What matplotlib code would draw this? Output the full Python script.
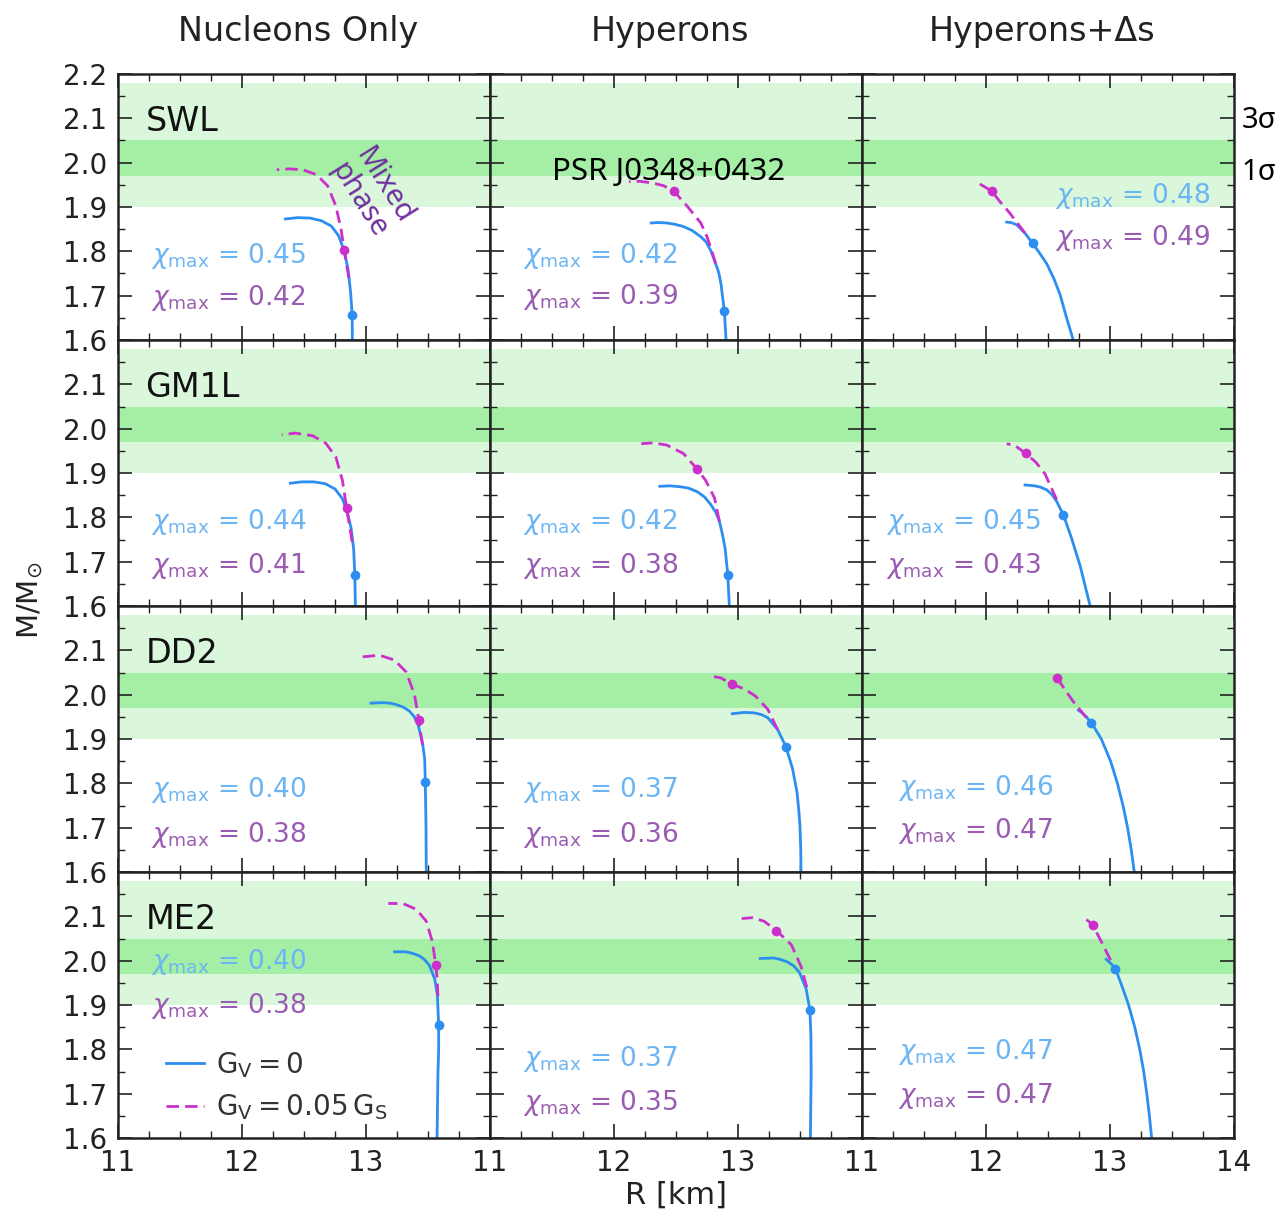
import matplotlib
matplotlib.use("Agg")
import matplotlib.pyplot as plt
from matplotlib.ticker import MultipleLocator, FixedLocator

plt.rcParams["font.family"] = ["DejaVu Sans"]
plt.rcParams["mathtext.fontset"] = "dejavusans"

# ---------------------------------------------------------------------------
# Data: mass-radius branches of hybrid stars, rows = hadronic EoS,
# columns = hadronic composition.  R in km, M in solar masses.
# ---------------------------------------------------------------------------
eos_names = ["SWL", "GM1L", "DD2", "ME2"]
compositions = ["Nucleons Only", "Hyperons", "Hyperons+Δs"]

# G_V = 0 branches
gv0_radius = [
    [[12.89, 12.888, 12.875, 12.855, 12.825, 12.78, 12.72, 12.64, 12.55, 12.45, 12.35],
     [12.904, 12.89, 12.863, 12.845, 12.82, 12.78, 12.74, 12.70, 12.63, 12.56, 12.49, 12.425, 12.36, 12.30],
     [12.704, 12.65, 12.597, 12.545, 12.49, 12.43, 12.376, 12.315, 12.247, 12.20, 12.167]],
    [[12.914, 12.91, 12.90, 12.88, 12.85, 12.81, 12.75, 12.67, 12.58, 12.48, 12.39],
     [12.93, 12.918, 12.896, 12.872, 12.85, 12.82, 12.78, 12.73, 12.67, 12.60, 12.534, 12.45, 12.37],
     [12.84, 12.80, 12.758, 12.69, 12.625, 12.57, 12.53, 12.49, 12.44, 12.395, 12.315]],
    [[13.486, 13.484, 13.478, 13.473, 13.454, 13.42, 13.39, 13.35, 13.30, 13.24, 13.19, 13.135, 13.04],
     [13.508, 13.506, 13.50, 13.49, 13.476, 13.44, 13.386, 13.32, 13.24, 13.19, 13.13, 13.05, 12.954],
     [13.196, 13.172, 13.142, 13.105, 13.06, 13.005, 12.93, 12.865, 12.81, 12.77, 12.745]],
    [[13.573, 13.58, 13.586, 13.586, 13.576, 13.554, 13.51, 13.47, 13.43, 13.37, 13.32, 13.23],
     [13.584, 13.59, 13.588, 13.58, 13.55, 13.495, 13.45, 13.40, 13.34, 13.29, 13.18],
     [13.336, 13.318, 13.297, 13.272, 13.24, 13.20, 13.15, 13.10, 13.06, 13.02, 12.97]],
]
gv0_mass = [
    [[1.60, 1.66, 1.71, 1.76, 1.80, 1.835, 1.857, 1.869, 1.875, 1.876, 1.873],
     [1.60, 1.665, 1.726, 1.752, 1.772, 1.802, 1.822, 1.833, 1.847, 1.856, 1.861, 1.864, 1.865, 1.864],
     [1.60, 1.65, 1.703, 1.74, 1.772, 1.797, 1.818, 1.841, 1.860, 1.865, 1.866]],
    [[1.60, 1.67, 1.73, 1.775, 1.81, 1.842, 1.864, 1.876, 1.880, 1.880, 1.877],
     [1.60, 1.67, 1.73, 1.765, 1.791, 1.812, 1.829, 1.846, 1.858, 1.866, 1.869, 1.871, 1.870],
     [1.60, 1.645, 1.692, 1.753, 1.805, 1.836, 1.852, 1.862, 1.868, 1.871, 1.873]],
    [[1.60, 1.70, 1.804, 1.856, 1.894, 1.932, 1.950, 1.963, 1.972, 1.978, 1.981, 1.982, 1.981],
     [1.60, 1.65, 1.703, 1.74, 1.780, 1.833, 1.883, 1.921, 1.948, 1.955, 1.959, 1.960, 1.957],
     [1.60, 1.65, 1.70, 1.75, 1.80, 1.85, 1.90, 1.93, 1.95, 1.96, 1.965]],
    [[1.60, 1.744, 1.80, 1.854, 1.921, 1.959, 1.990, 2.003, 2.011, 2.017, 2.020, 2.020],
     [1.60, 1.744, 1.83, 1.889, 1.936, 1.974, 1.988, 1.997, 2.003, 2.006, 2.005],
     [1.60, 1.65, 1.70, 1.75, 1.80, 1.85, 1.90, 1.94, 1.97, 1.99, 2.003]],
]

# G_V = 0.05 G_S branches
gvs_radius = [
    [[12.862, 12.84, 12.824, 12.80, 12.757, 12.69, 12.60, 12.49, 12.38, 12.28],
     [12.82, 12.795, 12.75, 12.70, 12.59, 12.485, 12.40, 12.315, 12.205, 12.12],
     [12.315, 12.19, 12.11, 12.046, 11.95]],
    [[12.888, 12.868, 12.843, 12.81, 12.757, 12.676, 12.57, 12.43, 12.32],
     [12.85, 12.81, 12.74, 12.67, 12.56, 12.425, 12.315, 12.22],
     [12.57, 12.476, 12.40, 12.32, 12.234, 12.167]],
    [[13.455, 13.44, 13.427, 13.39, 13.324, 13.23, 13.108, 12.96],
     [13.32, 13.24, 13.14, 13.05, 12.95, 12.86, 12.78],
     [12.81, 12.70, 12.64, 12.575]],
    [[13.58, 13.575, 13.562, 13.535, 13.486, 13.405, 13.297, 13.18],
     [13.555, 13.51, 13.43, 13.31, 13.21, 13.116, 13.03],
     [13.005, 12.93, 12.86, 12.81]],
]
gvs_mass = [
    [[1.74, 1.775, 1.802, 1.848, 1.902, 1.948, 1.973, 1.984, 1.986, 1.984],
     [1.772, 1.795, 1.833, 1.864, 1.902, 1.935, 1.948, 1.954, 1.958, 1.957],
     [1.841, 1.887, 1.913, 1.936, 1.952]],
    [[1.745, 1.78, 1.822, 1.883, 1.936, 1.967, 1.984, 1.990, 1.986],
     [1.791, 1.844, 1.883, 1.909, 1.944, 1.963, 1.968, 1.966],
     [1.840, 1.898, 1.925, 1.944, 1.962, 1.966]],
    [[1.887, 1.915, 1.942, 2.001, 2.051, 2.078, 2.089, 2.085],
     [1.921, 1.967, 1.997, 2.013, 2.024, 2.038, 2.042],
     [1.948, 1.986, 2.01, 2.037]],
    [[1.92, 1.955, 1.991, 2.043, 2.089, 2.116, 2.129, 2.129],
     [1.94, 1.986, 2.036, 2.068, 2.089, 2.097, 2.095],
     [2.001, 2.043, 2.081, 2.093]],
]

# onset of the quark-hadron mixed phase (R, M)
gv0_onset = [
    [(12.886, 1.657), (12.89, 1.665), (12.376, 1.818)],
    [(12.908, 1.669), (12.918, 1.670), (12.625, 1.805)],
    [(13.478, 1.804), (13.386, 1.883), (12.85, 1.936)],
    [(13.586, 1.854), (13.58, 1.889), (13.04, 1.982)],
]
gvs_onset = [
    [(12.824, 1.802), (12.485, 1.935), (12.046, 1.936)],
    [(12.843, 1.822), (12.67, 1.909), (12.32, 1.944)],
    [(13.427, 1.942), (12.95, 2.024), (12.575, 2.037)],
    [(13.562, 1.991), (13.31, 2.068), (12.86, 2.081)],
]

# maximum central quark fraction
chi_gv0 = [[0.45, 0.42, 0.48], [0.44, 0.42, 0.45], [0.40, 0.37, 0.46], [0.40, 0.37, 0.47]]
chi_gvs = [[0.42, 0.39, 0.49], [0.41, 0.38, 0.43], [0.38, 0.36, 0.47], [0.38, 0.35, 0.47]]

# PSR J0348+0432 mass constraint
band_1sigma = (1.97, 2.05)
band_3sigma = (1.90, 2.18)

# ---------------------------------------------------------------------------
# Styling / layout
# ---------------------------------------------------------------------------
c_gv0 = "#2b8ef0"
c_gvs = "#cc2fcc"
c_txt_gv0 = "#6cb5f4"
c_txt_gvs = "#9a5cb2"
c_band_light = "#dbf7db"
c_band_dark = "#a5eea5"

# (R, M) of the left edge of the two chi labels, per panel
chi_label_pos = [
    [((11.27, 1.790), (11.27, 1.695)), ((11.27, 1.790), (11.27, 1.697)), ((12.556, 1.925), (12.556, 1.830))],
    [((11.27, 1.789), (11.27, 1.690)), ((11.27, 1.789), (11.27, 1.690)), ((11.19, 1.789), (11.19, 1.690))],
    [((11.27, 1.785), (11.27, 1.683)), ((11.27, 1.785), (11.27, 1.683)), ((11.29, 1.790), (11.29, 1.693))],
    [((11.27, 1.997), (11.27, 1.898)), ((11.27, 1.779), (11.27, 1.680)), ((11.29, 1.793), (11.29, 1.695))],
]

fig, axes = plt.subplots(4, 3, figsize=(12.87, 12.17), dpi=100)
fig.subplots_adjust(left=0.0917, right=0.9588, top=0.9392, bottom=0.0649,
                    wspace=0, hspace=0)

yt = [1.6, 1.7, 1.8, 1.9, 2.0, 2.1, 2.2]
xt = [11, 12, 13, 14]

for i in range(4):
    for j in range(3):
        ax = axes[i][j]
        ax.set_xlim(11, 14)
        ax.set_ylim(1.6, 2.2)
        ax.axhspan(*band_3sigma, color=c_band_light, lw=0, zorder=0)
        ax.axhspan(*band_1sigma, color=c_band_dark, lw=0, zorder=0.5)

        l0, = ax.plot(gv0_radius[i][j], gv0_mass[i][j], color=c_gv0, lw=2.0,
                      solid_joinstyle="round", zorder=3)
        l1, = ax.plot(gvs_radius[i][j], gvs_mass[i][j], color=c_gvs, lw=2.0,
                      dashes=(4.5, 2.2), zorder=3.5)
        ax.plot(*gv0_onset[i][j], "o", color=c_gv0, ms=7, mec="none", zorder=4)
        ax.plot(*gvs_onset[i][j], "o", color=c_gvs, ms=7, mec="none", zorder=4)

        (bx, by), (px, py) = chi_label_pos[i][j]
        ax.text(bx, by, r"$\chi_{\mathrm{max}}$ = %.2f" % chi_gv0[i][j],
                color=c_txt_gv0, fontsize=19, va="center", ha="left", zorder=5)
        ax.text(px, py, r"$\chi_{\mathrm{max}}$ = %.2f" % chi_gvs[i][j],
                color=c_txt_gvs, fontsize=19, va="center", ha="left", zorder=5)

        # ticks
        ax.xaxis.set_major_locator(FixedLocator(xt))
        ax.xaxis.set_minor_locator(MultipleLocator(0.25))
        ax.yaxis.set_major_locator(FixedLocator(yt))
        ax.yaxis.set_minor_locator(MultipleLocator(0.05))
        ax.tick_params(which="both", direction="in", top=True, right=True,
                       colors="#222222", labelsize=20)
        ax.tick_params(which="major", length=10, width=1.2, pad=8)
        ax.tick_params(which="minor", length=5, width=1.0)
        for sp in ax.spines.values():
            sp.set_linewidth(1.8)
            sp.set_color("#222222")
            sp.set_zorder(6)

        if j == 0:
            labels = ["%.1f" % v for v in yt]
            if i > 0:
                labels[-1] = ""
            ax.set_yticklabels(labels)
        else:
            ax.set_yticklabels([])
        if i == 3:
            labels = ["%d" % v for v in xt]
            if j < 2:
                labels[-1] = ""
            ax.set_xticklabels(labels)
        else:
            ax.set_xticklabels([])

        if i == 0:
            ax.text(0.5 - 6 / 372, 1 + 42 / 266, compositions[j], transform=ax.transAxes,
                    ha="center", va="center", fontsize=24, color="#222222")
        if j == 0:
            ax.text(11.22, 2.093, eos_names[i], fontsize=24, va="center",
                    ha="left", color="#111111", zorder=5)

        if i == 3 and j == 0:
            ax.legend([l0, l1],
                      [r"$\mathrm{G_V = 0}$", r"$\mathrm{G_V = 0.05\,G_S}$"],
                      loc="upper left", bbox_to_anchor=(0.062, 0.425),
                      frameon=False, fontsize=20, handlelength=1.35,
                      handletextpad=0.45, labelspacing=0.45, borderpad=0.4,
                      labelcolor="#333333")

# annotations
axes[0][1].text(12.44, 1.979, "PSR J0348+0432", family=["Noto Sans", "DejaVu Sans"],
                fontsize=22.5, ha="center", va="center", color="black", zorder=7)
axes[0][0].text(13.04, 1.931, "Mixed\nphase", family=["Noto Sans", "DejaVu Sans"],
                fontsize=21, rotation=-58, rotation_mode="anchor", ha="center",
                va="center", multialignment="center", linespacing=1.0,
                color="#7030a0", zorder=7)
axes[0][2].text(1.021, 2.096, "3σ", transform=axes[0][2].get_yaxis_transform(),
                family=["Noto Sans", "DejaVu Sans"], fontsize=21, ha="left",
                va="center", color="black", clip_on=False)
axes[0][2].text(1.021, 1.977, "1σ", transform=axes[0][2].get_yaxis_transform(),
                family=["Noto Sans", "DejaVu Sans"], fontsize=21, ha="left",
                va="center", color="black", clip_on=False)

fig.text(30 / 1287, 1 - 600 / 1217, r"M/M$_{\odot}$", rotation=90, ha="center",
         va="center", fontsize=21, color="#222222")
fig.text(676 / 1287, 1 - 1195 / 1217, "R [km]", ha="center", va="center",
         fontsize=22, color="#222222")

fig.savefig("out.png", dpi=100)
